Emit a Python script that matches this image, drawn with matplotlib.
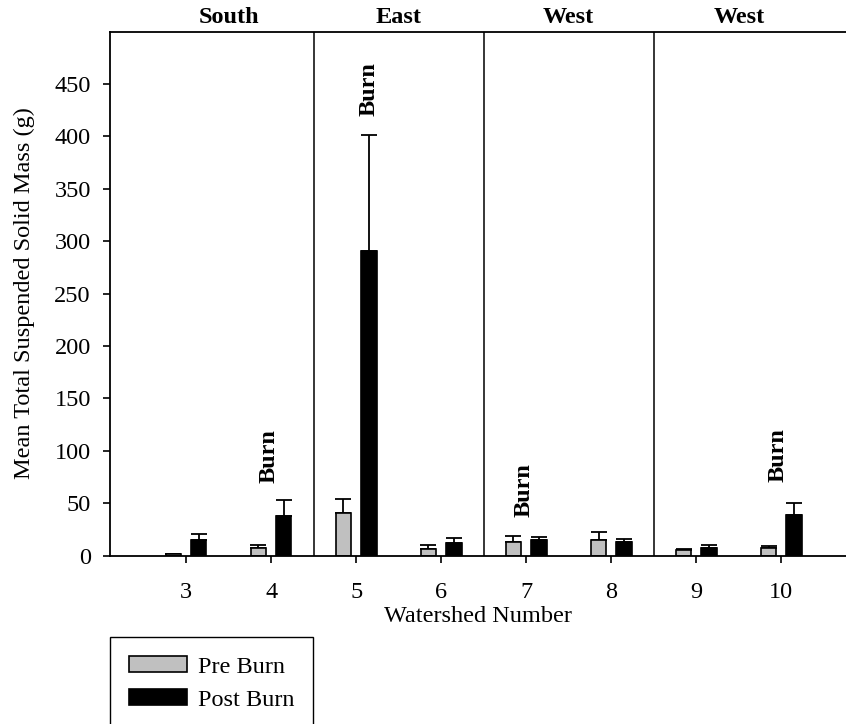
import numpy as np
import matplotlib
matplotlib.use("Agg")
import matplotlib.pyplot as plt

plt.rcParams['font.family'] = ['Liberation Serif', 'DejaVu Serif']
plt.rcParams['font.size'] = 17.5

# watershed numbers and mean TSS mass (g), with upper error bars
watersheds = [3, 4, 5, 6, 7, 8, 9, 10]
pre_burn = [1, 7.3, 40.2, 6.3, 13, 14.5, 5, 7.6]
pre_err = [0.5, 2.5, 13.5, 3.5, 6, 8.3, 0.8, 1.9]
post_burn = [15.2, 38, 291, 12.3, 14.5, 13.3, 7, 38.9]
post_err = [5.4, 14.8, 110, 4.5, 3.2, 2.8, 2.8, 11.4]

# aspect of each pair of watersheds, and which ones were burned
regions = ["South", "East", "West", "West"]
burned = [4, 5, 7, 10]
burn_x = [3.98, 5.15, 6.97, 9.96]
burn_y = [69, 419, 36.5, 70.5]

fig = plt.figure(figsize=(8.46, 7.24), dpi=100)
ax = fig.add_axes([109.5 / 846, 1 - 555.5 / 724, 1 - 109.5 / 846, 524 / 724])

x = np.array(watersheds, dtype=float)
w = 0.18
off = 0.15
ax.bar(x - off, pre_burn, w, color='#c0c0c0', edgecolor='black', linewidth=1.2,
       label='Pre Burn', zorder=2)
ax.bar(x + off, post_burn, w, color='black', edgecolor='black', linewidth=1.2,
       label='Post Burn', zorder=2)
ax.errorbar(x - off, pre_burn, yerr=[np.zeros(len(x)), pre_err], fmt='none',
            ecolor='black', elinewidth=1.3, capsize=5.5, capthick=1.3, zorder=1)
ax.errorbar(x + off, post_burn, yerr=[np.zeros(len(x)), post_err], fmt='none',
            ecolor='black', elinewidth=1.3, capsize=5.5, capthick=1.3, zorder=1)

# divider lines between aspects
for xd in [4.5, 6.5, 8.5]:
    ax.axvline(xd, color='black', linewidth=1.1)

for i, name in enumerate(regions):
    ax.text(3.5 + 2 * i, 503, name, ha='center', va='bottom', fontweight='bold')

for bx, by in zip(burn_x, burn_y):
    ax.text(bx, by, "Burn", rotation=90, ha='center', va='bottom', fontweight='bold')

ax.set_xlim(2.1, 10.76)
ax.set_ylim(0, 500)
ax.set_xticks(watersheds)
ax.set_yticks(np.arange(0, 451, 50))
ax.tick_params(direction='out', length=5, width=1.2)
ax.tick_params(axis='x', pad=14)
ax.tick_params(axis='y', pad=8.5)
ax.spines['right'].set_visible(False)
for s in ['left', 'top', 'bottom']:
    ax.spines[s].set_linewidth(1.3)

ax.set_xlabel('Watershed Number', labelpad=2.5)
ax.set_ylabel('Mean Total Suspended Solid Mass (g)', labelpad=14)

fig.legend(loc='upper left', bbox_to_anchor=(110 / 846, 1 - 637 / 724),
           borderaxespad=0, fancybox=False, edgecolor='black', framealpha=1,
           handlelength=2.35, handleheight=0.62, handletextpad=0.45,
           borderpad=0.8, labelspacing=0.47)

fig.savefig('out.png', dpi=100)
